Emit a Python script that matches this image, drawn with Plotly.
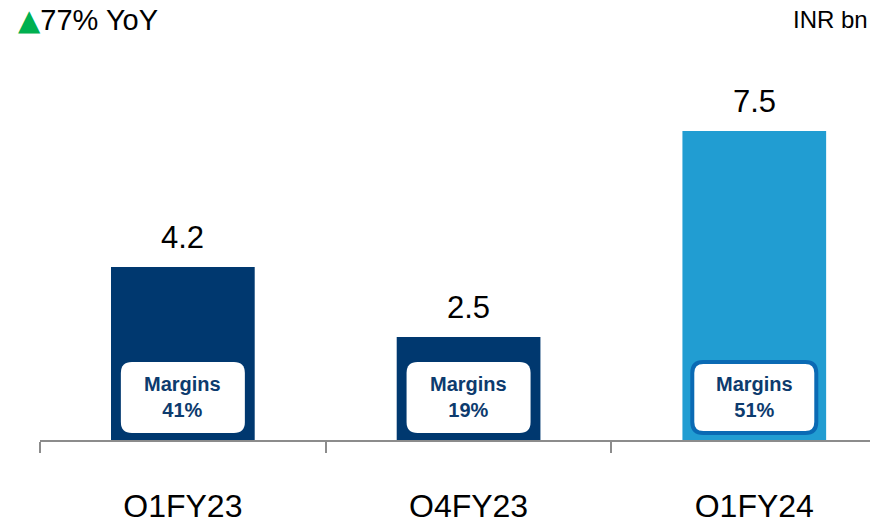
import plotly.graph_objects as go

categories = ["Q1FY23", "Q4FY23", "Q1FY24"]
values = [4.2, 2.5, 7.5]
value_labels = ["4.2", "2.5", "7.5"]
margins = ["41%", "19%", "51%"]
bar_colors = ["#00386F", "#00386F", "#219DD2"]
box_borders = [None, None, "#0A6AB4"]

FONT = "Liberation Sans, Arial, sans-serif"

fig = go.Figure()
fig.add_trace(go.Bar(
    x=categories, y=values, marker=dict(color=bar_colors, line=dict(width=0)),
    width=0.503, hoverinfo="skip",
))

def rounded_rect(x0, x1, y0, y1, r):
    return (f"M {x0+r} {y0} L {x1-r} {y0} Q {x1} {y0} {x1} {y0+r} "
            f"L {x1} {y1-r} Q {x1} {y1} {x1-r} {y1} "
            f"L {x0+r} {y1} Q {x0} {y1} {x0} {y1-r} "
            f"L {x0} {y0+r} Q {x0} {y0} {x0+r} {y0} Z")

shapes = []
annotations = []
for i, (cat, v, lbl, m, bc) in enumerate(zip(categories, values, value_labels, margins, box_borders)):
    shapes.append(dict(
        type="path", xref="x", yref="y",
        xsizemode="pixel", ysizemode="pixel", xanchor=i, yanchor=0,
        path=rounded_rect(-62, 62, 7, 78, 11),
        fillcolor="white",
        line=dict(color=bc if bc else "rgba(0,0,0,0)", width=4 if bc else 0),
        layer="above",
    ))
    annotations.append(dict(
        x=i, y=v, xref="x", yref="y", text=lbl, showarrow=False,
        yanchor="bottom", yshift=10, font=dict(family=FONT, size=31, color="black"),
    ))
    annotations.append(dict(
        x=i, y=0, xref="x", yref="y", text=f"<b>Margins</b><br><b>{m}</b>",
        showarrow=False, yanchor="middle", yshift=43,
        font=dict(family=FONT, size=20, color="#0D3B6E"),
    ))

annotations.append(dict(
    x=-0.029, y=1.05, xref="paper", yref="paper", xanchor="left", yanchor="middle",
    text="<span style=\"color:#00B050;font-family:'DejaVu Sans';font-size:29px\">▲</span>77% YoY",
    showarrow=False,
    font=dict(family=FONT, size=29, color="black"),
))
annotations.append(dict(
    x=0.99, y=1.05, xref="paper", yref="paper", xanchor="right", yanchor="middle",
    text="INR bn", showarrow=False, font=dict(family=FONT, size=24, color="black"),
))

fig.update_layout(
    width=870, height=509,
    margin=dict(l=32, r=0, t=32, b=77, autoexpand=False),
    paper_bgcolor="white", plot_bgcolor="white",
    showlegend=False,
    shapes=shapes, annotations=annotations,
    xaxis=dict(
        type="category", range=[-0.5, 2.433], tickson="boundaries",
        showline=True, linecolor="#8C8C8C", linewidth=2,
        ticks="outside", ticklen=11, tickwidth=2, tickcolor="#8C8C8C",
        tickfont=dict(family=FONT, size=32, color="black"),
        ticklabelstandoff=37, showgrid=False, zeroline=False, automargin=False,
    ),
    yaxis=dict(range=[0, 400 / 41.2], visible=False, showgrid=False, zeroline=False,
               automargin=False),
)

fig.write_html("out.html")
